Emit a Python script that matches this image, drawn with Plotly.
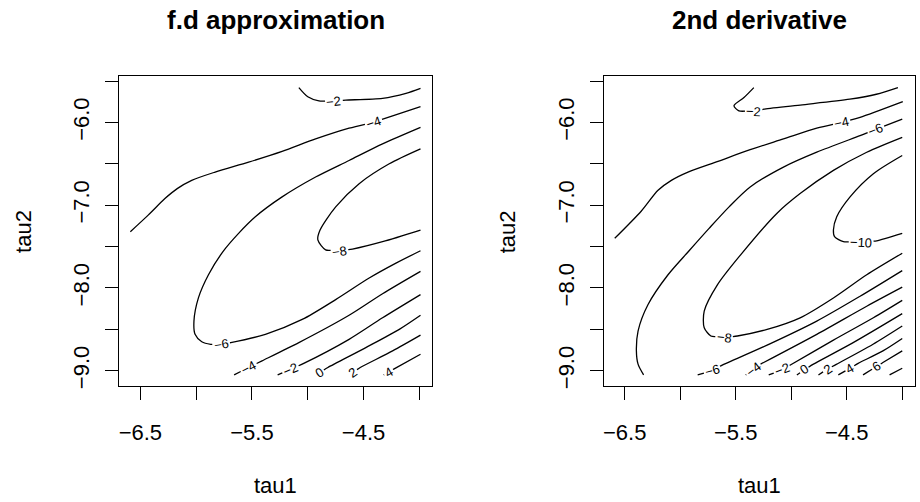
import math
import plotly.graph_objects as go

# ---------------- data ----------------
# Panel 1: "f.d approximation" -- contour paths (tau1, tau2) per level
FD_LEVELS = [-2, -4, -6, -8, -4, -2, 0, 2, 4]
FD_X = [
    [-5.08, -5.00, -4.90, -4.77, -4.66, -4.33, -4.12, -3.99],
    [-6.59, -6.43, -6.28, -6.17, -6.04, -5.83, -5.53, -5.23, -4.93, -4.63, -4.42, -4.24, -3.99],
    [-3.99, -4.33, -4.63, -4.93, -5.23, -5.47, -5.62, -5.76, -5.89, -5.98, -6.02, -6.01, -5.95,
     -5.87, -5.78, -5.69, -5.38, -5.05, -4.75, -4.45, -4.21, -3.99],
    [-3.99, -4.27, -4.54, -4.75, -4.89, -4.91, -4.84, -4.72, -4.60, -4.33, -3.99],
    [-5.66, -5.53, -5.41, -5.08, -4.63, -4.33, -3.99],
    [-5.27, -5.15, -5.05, -4.63, -4.33, -3.99],
    [-4.93, -4.82, -4.48, -4.18, -3.99],
    [-4.63, -4.53, -4.24, -3.99],
    [-4.32, -4.23, -3.99],
]
FD_Y = [
    [-5.58, -5.69, -5.74, -5.745, -5.73, -5.71, -5.65, -5.59],
    [-7.32, -7.12, -6.92, -6.80, -6.70, -6.60, -6.48, -6.35, -6.20, -6.07, -6.00, -5.92, -5.81],
    [-6.06, -6.26, -6.46, -6.66, -6.90, -7.14, -7.34, -7.56, -7.84, -8.12, -8.40, -8.56, -8.65,
     -8.68, -8.68, -8.66, -8.56, -8.38, -8.14, -7.88, -7.70, -7.55],
    [-6.32, -6.50, -6.74, -7.02, -7.30, -7.42, -7.54, -7.555, -7.53, -7.44, -7.30],
    [-9.05, -8.96, -8.88, -8.66, -8.33, -8.07, -7.80],
    [-9.05, -8.98, -8.92, -8.62, -8.36, -8.08],
    [-9.05, -8.96, -8.72, -8.50, -8.33],
    [-9.05, -8.96, -8.76, -8.57],
    [-9.05, -8.98, -8.80],
]
FD_LABEL_X = [-4.766, -4.41, -5.776, -4.716, -5.53, -5.156, -4.896, -4.597, -4.279]
FD_LABEL_Y = [-5.74, -6.00, -8.68, -7.553, -8.96, -8.98, -9.02, -9.02, -9.01]

# Panel 2: "2nd derivative"
SD_LEVELS = [-2, -4, -6, -8, -10, -6, -4, -2, 0, 2, 4, 6, 8]
SD_X = [
    [-5.337, -5.426, -5.516, -5.471, -5.337, -5.247, -4.919, -4.472, -4.233, -4.039],
    [-6.59, -6.35, -6.20, -6.08, -5.93, -5.66, -5.37, -5.07, -4.77, -4.546, -4.38, -3.995],
    [-4.00, -4.23, -4.38, -4.77, -5.07, -5.37, -5.56, -5.74, -5.92, -6.11, -6.29, -6.38, -6.395,
     -6.38, -6.33],
    [-4.00, -4.32, -4.62, -4.92, -5.13, -5.456, -5.664, -5.784, -5.784, -5.724, -5.605,
     -5.485, -5.217, -4.92, -4.62, -4.32, -4.00],
    [-4.00, -4.26, -4.47, -4.59, -4.62, -4.61, -4.53, -4.37, -4.23, -4.00],
    [-5.843, -5.71, -5.635, -5.217, -4.77, -4.38, -4.00],
    [-5.41, -5.342, -5.277, -4.77, -4.32, -4.00],
    [-5.203, -5.083, -5.008, -4.62, -4.26, -4.00],
    [-4.949, -4.883, -4.80, -4.442, -4.00],
    [-4.755, -4.675, -4.59, -4.263, -4.00],
    [-4.576, -4.472, -4.397, -4.174, -4.00],
    [-4.353, -4.233, -4.174, -4.00],
    [-4.114, -4.00],
]
SD_Y = [
    [-5.58, -5.70, -5.80, -5.86, -5.87, -5.84, -5.79, -5.72, -5.66, -5.58],
    [-7.40, -7.07, -6.82, -6.70, -6.60, -6.47, -6.33, -6.20, -6.07, -6.00, -5.94, -5.75],
    [-5.96, -6.08, -6.16, -6.36, -6.54, -6.78, -7.02, -7.28, -7.55, -7.84, -8.20, -8.52, -8.76,
     -8.92, -9.05],
    [-6.18, -6.36, -6.58, -6.86, -7.10, -7.60, -7.96, -8.28, -8.48, -8.58, -8.60,
     -8.58, -8.50, -8.36, -8.12, -7.84, -7.58],
    [-6.40, -6.62, -6.90, -7.14, -7.30, -7.38, -7.44, -7.45, -7.43, -7.34],
    [-9.05, -9.00, -8.94, -8.69, -8.40, -8.10, -7.79],
    [-9.05, -8.98, -8.92, -8.56, -8.22, -7.99],
    [-9.05, -8.99, -8.93, -8.63, -8.36, -8.15],
    [-9.05, -8.99, -8.92, -8.66, -8.31],
    [-9.05, -8.98, -8.92, -8.68, -8.46],
    [-9.05, -8.97, -8.91, -8.76, -8.61],
    [-9.05, -8.95, -8.90, -8.76],
    [-9.05, -8.97],
]
SD_LABEL_X = [-5.337, -4.546, -4.233, -5.605, -4.37, -5.71, -5.342, -5.083, -4.883, -4.675, -4.472, -4.233, None]
SD_LABEL_Y = [-5.87, -6.00, -6.10, -8.60, -7.45, -9.00, -8.98, -8.99, -8.99, -8.98, -8.97, -8.95, None]

TITLES = ["f.d approximation", "2nd derivative"]
X_TITLE = "tau1"
Y_TITLE = "tau2"
X_TICKS = [-6.5, -6.0, -5.5, -5.0, -4.5, -4.0]
X_TICKTEXT = ["\u22126.5", "", "\u22125.5", "", "\u22124.5", ""]
Y_TICKS = [-5.5, -6.0, -6.5, -7.0, -7.5, -8.0, -8.5, -9.0]
Y_TICKTEXT = ["", "\u22126.0", "", "\u22127.0", "", "\u22128.0", "", "\u22129.0"]

# ---------------- layout geometry ----------------
W, H = 920, 502
X_RANGE = [-6.69, -3.885]
Y_RANGE = [-9.18, -5.44]
PANELS_PX = [(118.3, 431.7), (603.3, 915.0)]
TOP_PX, BOT_PX = 76.5, 388.0
FONT = "Liberation Sans, Arial, Helvetica, sans-serif"
LABEL_SIZE = 13

KX = (PANELS_PX[0][1] - PANELS_PX[0][0]) / (X_RANGE[1] - X_RANGE[0])
KY = (BOT_PX - TOP_PX) / (Y_RANGE[1] - Y_RANGE[0])


def text_width(s, size):
    w = 0.0
    for ch in s:
        w += 0.584 if ch == "\u2212" else 0.556
    return w * size


def split_at_label(xs, ys, lx, ly, half):
    P = [(x * KX, y * KY) for x, y in zip(xs, ys)]
    L = (lx * KX, ly * KY)
    cum = [0.0]
    for i in range(1, len(P)):
        cum.append(cum[-1] + math.dist(P[i - 1], P[i]))
    best = None
    for i in range(len(P) - 1):
        (ax, ay), (bx, by) = P[i], P[i + 1]
        dx, dy = bx - ax, by - ay
        seg = math.hypot(dx, dy)
        t = 0.0 if seg == 0 else max(0.0, min(1.0, ((L[0] - ax) * dx + (L[1] - ay) * dy) / seg ** 2))
        qx, qy = ax + t * dx, ay + t * dy
        d = math.hypot(L[0] - qx, L[1] - qy)
        if best is None or d < best[0]:
            best = (d, cum[i] + t * seg, i)
    s0 = best[1]

    def at(s):
        for i in range(len(P) - 1):
            if cum[i + 1] >= s:
                seg = cum[i + 1] - cum[i]
                t = 0 if seg == 0 else (s - cum[i]) / seg
                return (P[i][0] + t * (P[i + 1][0] - P[i][0]), P[i][1] + t * (P[i + 1][1] - P[i][1]))
        return P[-1]

    a, b = s0 - half, s0 + half
    pieces = []
    p1 = [P[i] for i in range(len(P)) if cum[i] < a]
    if p1:
        p1.append(at(a))
        pieces.append(p1)
    p2 = [P[i] for i in range(len(P)) if cum[i] > b]
    if p2:
        pieces.append([at(b)] + p2)
    i = best[2]
    ang = math.degrees(math.atan2(P[i + 1][1] - P[i][1], P[i + 1][0] - P[i][0]))
    if ang > 90:
        ang -= 180
    if ang < -90:
        ang += 180
    c = at(s0)
    pieces = [[(px / KX, py / KY) for px, py in pc] for pc in pieces]
    return pieces, ang, (c[0] / KX, c[1] / KY)


def fmt(v):
    return ("\u2212" + str(abs(v))) if v < 0 else str(v)


fig = go.Figure()
annotations = []
panels = [(FD_LEVELS, FD_X, FD_Y, FD_LABEL_X, FD_LABEL_Y),
          (SD_LEVELS, SD_X, SD_Y, SD_LABEL_X, SD_LABEL_Y)]

for k, (levels, X, Y, LX, LY) in enumerate(panels):
    xa = "x" if k == 0 else "x2"
    ya = "y" if k == 0 else "y2"
    for lev, xs, ys, lx, ly in zip(levels, X, Y, LX, LY):
        if lx is None:
            pieces = [list(zip(xs, ys))]
        else:
            txt = fmt(lev)
            half = text_width(txt, LABEL_SIZE) / 2 + 1.5
            pieces, ang, (cx, cy) = split_at_label(xs, ys, lx, ly, half)
            annotations.append(dict(
                x=cx, y=cy, xref=xa, yref=ya, text=txt, showarrow=False,
                textangle=-ang, font=dict(family=FONT, size=LABEL_SIZE, color="black"),
                xanchor="center", yanchor="middle"))
        for pc in pieces:
            fig.add_trace(go.Scatter(
                x=[p[0] for p in pc], y=[p[1] for p in pc], mode="lines",
                line=dict(color="black", width=1.3, shape="spline", smoothing=0.8),
                xaxis=xa, yaxis=ya, showlegend=False, hoverinfo="skip"))

axis_common = dict(
    showgrid=False, zeroline=False, showline=True, mirror=True, linecolor="black", linewidth=1.2,
    ticks="outside", ticklen=13, tickwidth=1.2, tickcolor="black",
    tickfont=dict(family=FONT, size=22, color="black"),
)
y_dom = [1 - BOT_PX / H, 1 - TOP_PX / H]
layout = dict(
    width=W, height=H, margin=dict(l=0, r=0, t=0, b=0),
    paper_bgcolor="white", plot_bgcolor="white", showlegend=False,
)
for k, (x0, x1) in enumerate(PANELS_PX):
    sx = "" if k == 0 else "2"
    layout["xaxis" + sx] = dict(axis_common, domain=[x0 / W, x1 / W], range=X_RANGE,
                                tickmode="array", tickvals=X_TICKS, ticktext=X_TICKTEXT,
                                anchor="y" + sx, ticklabelstandoff=14)
    layout["yaxis" + sx] = dict(axis_common, domain=y_dom, range=Y_RANGE,
                                tickmode="array", tickvals=Y_TICKS, ticktext=Y_TICKTEXT,
                                tickangle=-90, anchor="x" + sx, ticklabelstandoff=7)
    cx = (x0 + x1) / 2 / W
    annotations.append(dict(x=cx, y=1 - 20 / H, xref="paper", yref="paper", text="<b>%s</b>" % TITLES[k],
                            showarrow=False, xanchor="center", yanchor="middle",
                            font=dict(family=FONT, size=26, color="black")))
    annotations.append(dict(x=cx, y=1 - 488 / H, xref="paper", yref="paper", text=X_TITLE,
                            showarrow=False, xanchor="center", yanchor="middle",
                            font=dict(family=FONT, size=22, color="black")))
    annotations.append(dict(x=(x0 - 96) / W, y=1 - 233 / H, xref="paper", yref="paper", text=Y_TITLE,
                            showarrow=False, xanchor="center", yanchor="middle", textangle=-90,
                            font=dict(family=FONT, size=22, color="black")))
layout["annotations"] = annotations
fig.update_layout(**layout)
fig.write_html("out.html")
